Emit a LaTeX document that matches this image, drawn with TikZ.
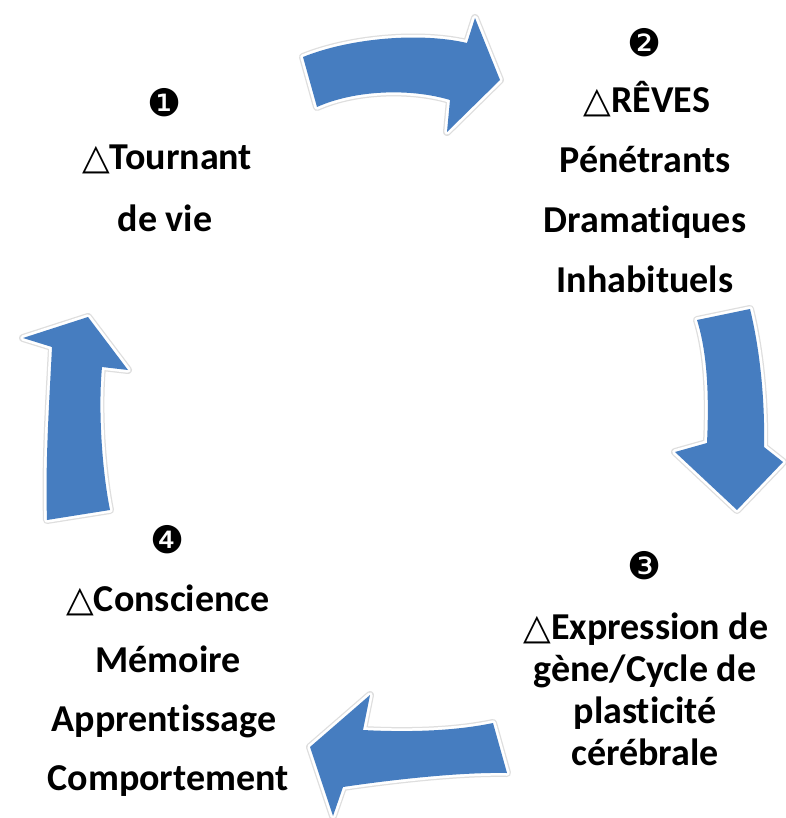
\documentclass[tikz,border=0pt]{standalone}
\usepackage{fontspec}
\setmainfont{Carlito}[Ligatures=NoCommon]
\newfontfamily\symfont{DejaVu Sans}
\definecolor{arrowblue}{RGB}{70,125,192}
\tikzset{
 lbl/.style={font=\fontsize{38}{44}\selectfont\bfseries, anchor=base, inner sep=0pt},
 num/.style={font=\symfont\fontsize{38}{40}\selectfont, inner sep=0pt},
 halo/.style={draw=black!13, line width=8pt, line join=round},
 halotwo/.style={draw=white, line width=5.5pt, line join=round},
 bluefill/.style={fill=arrowblue}
}
\newcommand\tri{{\symfont\fontsize{36}{40}\selectfont △}}
\def\arrowTop{(303,57) .. controls (350,38) and (420,32) .. (467,43) -- (475,18) -- (500,80) -- (447,132) -- (450,100) .. controls (410,88) and (355,90) .. (317,107) -- cycle}
\def\arrowRight{(697,320) -- (750,309) .. controls (760,350) and (765,400) .. (764,447) -- (783,462) -- (737,510) -- (675,452) -- (707,443) .. controls (709,400) and (708,355) .. (697,320) -- cycle}
\def\arrowBottom{(493,723) .. controls (450,732) and (400,732) .. (363,730) -- (370,695) -- (310,747) -- (333,816) -- (343,787) .. controls (390,780) and (460,772) .. (507,773) -- cycle}
\def\arrowLeft{(47,520) .. controls (45,460) and (50,390) .. (52,347) -- (23,338) -- (88,317) -- (128,370) -- (102,367) .. controls (98,410) and (102,470) .. (110,510) -- cycle}
\begin{document}
\begin{tikzpicture}[x=1pt,y=-1pt]
\useasboundingbox[fill=white] (0,0) rectangle (785,818);
% arrows
\foreach \p in {\arrowTop,\arrowRight,\arrowBottom,\arrowLeft}{
  \draw[halo] \p;
  \draw[halotwo] \p;
  \fill[bluefill] \p;
}
% group 1
\node[num] (n1) at (165,103) {❶};
\node[lbl] (g1a) at (167,170) {\tri Tournant};
\node[lbl] (g1b) at (165,232) {de vie};
% group 2
\node[num] (n2) at (645,43) {❷};
\node[lbl] (g2a) at (647,113) {\tri RÊVES};
\node[lbl] (g2b) at (645,173) {Pénétrants};
\node[lbl] (g2c) at (645,233) {Dramatiques};
\node[lbl] (g2d) at (645,292) {Inhabituels};
% group 3
\node[num] (n3) at (645,566) {❸};
\node[lbl] (g3a) at (646,639) {\tri Expression de};
\node[lbl] (g3b) at (645,681) {gène/Cycle de};
\node[lbl] (g3c) at (645,723) {plasticité};
\node[lbl] (g3d) at (645,765) {cérébrale};
% group 4
\node[num] (n4) at (168,540) {❹};
\node[lbl] (g4a) at (168,611) {\tri Conscience};
\node[lbl] (g4b) at (168,672) {Mémoire};
\node[lbl] (g4c) at (164,731) {Apprentissage};
\node[lbl] (g4d) at (168,790) {Comportement};
\end{tikzpicture}
\end{document}
